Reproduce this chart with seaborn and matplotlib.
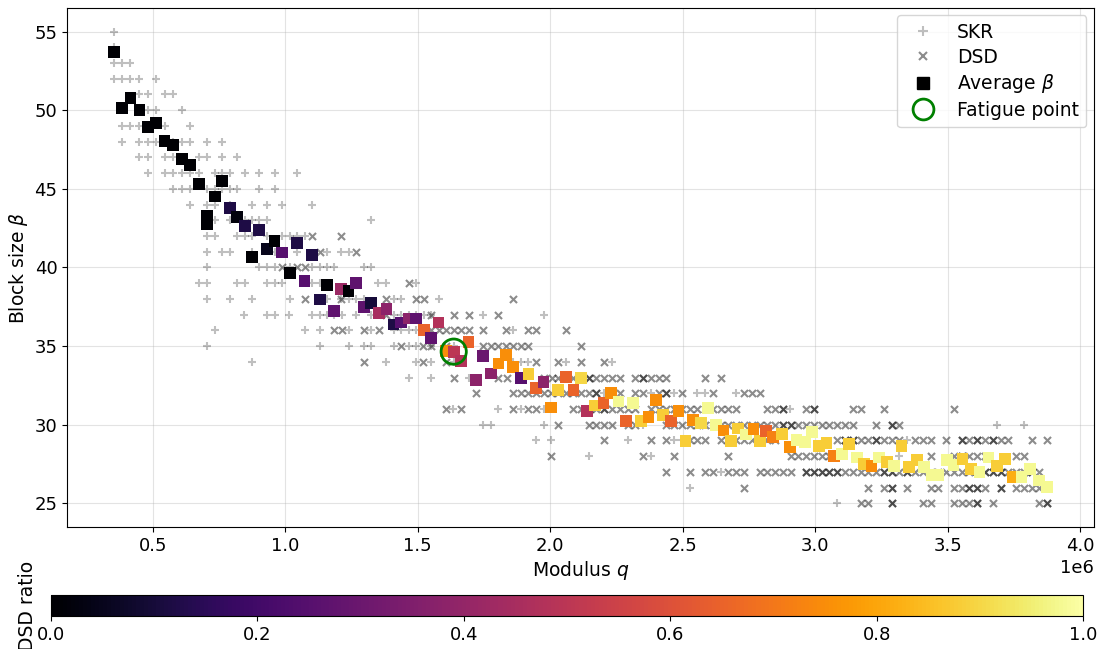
import matplotlib
matplotlib.use("Agg")
import matplotlib.pyplot as plt
import seaborn as sns
import pandas as pd
from matplotlib.lines import Line2D

# ---------------- data (q in thousands) ----------------
# SKR trials: (block size beta, list of moduli q in 1e3)
SKR_ROWS = [
    (55, [353]),
    (54, [353]),
    (53, [353, 385, 416]),
    (52, [353, 385, 416, 450, 513]),
    (51, [450, 481, 545, 577]),
    (50, [481, 513, 611]),
    (49, [385, 416, 450, 545, 642]),
    (48, [385, 450, 481, 513, 577, 611, 642, 705, 762]),
    (47, [450, 481, 545, 577, 674, 705, 762, 818]),
    (46, [481, 545, 577, 611, 642, 674, 734, 762, 791, 847, 902, 960, 1044]),
    (45, [577, 611, 642, 705, 734, 762, 791, 818, 902, 960]),
    (44, [642, 705, 734, 791, 875, 931, 988, 1101]),
    (43, [705, 734, 791, 847, 875, 902, 931, 1325]),
    (42, [705, 734, 818, 847, 875, 931, 988, 1017, 1044, 1073]),
    (41, [705, 762, 791, 875, 960, 988, 1044, 1158, 1212, 1239]),
    (40, [705, 902, 931, 960, 1017, 1101, 1130, 1158, 1185, 1296, 1325]),
    (39, [674, 705, 818, 847, 931, 960, 988, 1101, 1130, 1158, 1352, 1381, 1493]),
    (38, [705, 791, 875, 1017, 1130, 1158, 1212, 1240, 1269, 1296, 1409, 1437, 1579]),
    (37, [843, 931, 963, 1013, 1101, 1130, 1158, 1186, 1215, 1269, 1324, 1409, 1437,
          1466, 1495, 1523, 1550, 1748, 1975]),
    (36, [734, 1074, 1130, 1239, 1324, 1409, 1437, 1466, 1495, 1861]),
    (35, [705, 1130, 1240, 1296, 1324, 1409, 1466, 1495, 1550, 1636]),
    (34, [875, 1382, 1495, 1550, 1636, 1861, 1889, 1918, 2059, 2233]),
    (33, [1466, 1550, 1692]),
    (32, [2204, 2380, 2468, 2556, 2585, 2702]),
    (31, [1635, 1805, 1889, 1975, 2905]),
    (30, [1748, 1776, 1975, 2350, 3685, 3788]),
    (29, [1946, 2002, 2292, 2468, 2497, 3348]),
    (28, [2145, 2380, 3318]),
    (27, [2644]),
    (26, [2526]),
    (25, [3084]),
]

# DSD trials: (block size beta, list of moduli q in 1e3)
DSD_ROWS = [
    (42, [1101, 1212]),
    (41, [1130, 1268]),
    (40, [988, 1044, 1073]),
    (39, [1466]),
    (38, [1074, 1212, 1382, 1495, 1523, 1861]),
    (37, [1382, 1550, 1636, 1692, 1805]),
    (36, [1186, 1215, 1296, 1353, 1522, 1550, 1579, 1607, 1636, 1663, 1692, 1748,
          1832, 1918, 1946, 2059]),
    (35, [1437, 1522, 1550, 1607, 1748, 1776, 1805, 1832, 1861, 1889, 1918, 2115]),
    (34, [1296, 1522, 1607, 1946, 2031, 2115, 2204]),
    (33, [1636, 1805, 1837, 1975, 2006, 2031, 2059, 2088, 2115, 2145, 2174, 2204,
          2233, 2262, 2321, 2350, 2380, 2409, 2438, 2585, 2644]),
    (32, [1719, 1861, 1889, 1918, 1946, 1975, 2002, 2031, 2059, 2088, 2116, 2145,
          2174, 2233, 2262, 2321, 2350, 2409, 2438, 2497, 2614, 2732, 2761, 2790]),
    (31, [1607, 1663, 1861, 1918, 1946, 2088, 2116, 2145, 2174, 2204, 2233, 2262,
          2292, 2321, 2380, 2409, 2438, 2468, 2497, 2526, 2556, 2585, 2614, 2644,
          2673, 2702, 2820, 2849, 2878, 2966, 2996, 3142, 3172, 3260, 3524]),
    (30, [2031, 2145, 2174, 2204, 2233, 2292, 2321, 2438, 2468, 2497, 2526, 2556,
          2585, 2614, 2644, 2673, 2702, 2732, 2761, 2790, 2820, 2849, 2878, 2908,
          2937, 2966, 2996, 3025, 3054, 3084, 3113, 3142, 3230, 3289, 3318]),
    (29, [2204, 2380, 2438, 2526, 2556, 2585, 2644, 2673, 2702, 2732, 2761, 2790,
          2820, 2849, 3084, 3113, 3142, 3172, 3201, 3230, 3260, 3289, 3318, 3377,
          3406, 3436, 3494, 3553, 3582, 3612, 3641, 3670, 3700, 3729, 3817, 3876]),
    (28, [2002, 2350, 2468, 2673, 2908, 2937, 2966, 2996, 3025, 3054, 3436, 3524,
          3553, 3582, 3612, 3641, 3758, 3788]),
    (27, [2438, 2526, 2585, 2614, 2673, 2702, 2732, 2790, 2820, 2849, 2878, 2908,
          2966, 2996, 3025, 3054, 3084, 3113, 3142, 3172, 3201, 3230, 3260, 3289,
          3318, 3348, 3377, 3406, 3436, 3465, 3494, 3524, 3553, 3582, 3612, 3641,
          3670, 3700, 3729, 3758, 3788, 3817, 3846]),
    (26, [2732, 3201, 3260, 3289, 3348, 3436, 3465, 3524, 3553, 3582, 3612, 3641,
          3700, 3758, 3788, 3817, 3846]),
    (25, [3172, 3201, 3289, 3406, 3436, 3524, 3553, 3582, 3612, 3670, 3846, 3876]),
]

# repeated DSD trials (same q, same beta) which appear darker
DSD_REPEAT_ROWS = [
    (33, [2145, 2350]),
    (32, [2174, 2438]),
    (31, [2145, 2204, 2878, 2996]),
    (30, [2878, 2908, 3289]),
    (29, [3113, 3142, 3230, 3553, 3612, 3670]),
    (28, [3553]),
    (27, [2966, 2996, 3025, 3054, 3084, 3260, 3289, 3348, 3612, 3641, 3670, 3700, 3817]),
    (26, [3289, 3582, 3612, 3700]),
    (25, [3289, 3612, 3876]),
]

# Average beta per modulus, with DSD ratio
AVG_Q = [353, 385, 416, 450, 481, 513, 545, 577, 611, 642, 674, 705, 705, 734, 762,
         791, 818, 847, 875, 902, 931, 960, 988, 1017, 1044, 1073, 1101, 1130, 1158,
         1183, 1212, 1239, 1268, 1296, 1324, 1353, 1382, 1409, 1437, 1466, 1495, 1523,
         1550, 1579, 1607, 1636, 1663, 1692, 1719, 1748, 1776, 1805, 1832, 1861, 1889,
         1918, 1946, 1975, 2002, 2031, 2059, 2088, 2116, 2138, 2170, 2201, 2229, 2258,
         2285, 2314, 2342, 2371, 2398, 2427, 2455, 2484, 2511, 2540, 2568, 2597, 2625,
         2654, 2681, 2710, 2738, 2767, 2792, 2814, 2842, 2874, 2905, 2930, 2962, 2987,
         3016, 3043, 3071, 3100, 3129, 3157, 3185, 3213, 3242, 3270, 3299, 3326, 3355,
         3383, 3412, 3440, 3465, 3497, 3522, 3556, 3587, 3620, 3654, 3685, 3717, 3748,
         3779, 3811, 3846, 3874]
AVG_BETA = [53.68, 50.12, 50.79, 50.01, 48.92, 49.17, 48.06, 47.77, 46.91, 46.51, 45.29,
            43.30, 42.78, 44.52, 45.50, 43.78, 43.20, 42.63, 40.66, 42.40, 41.16, 41.67,
            40.95, 39.67, 41.54, 39.15, 40.79, 37.97, 38.90, 37.25, 38.65, 38.50, 39.02,
            37.48, 37.76, 37.13, 37.38, 36.37, 36.50, 36.75, 36.75, 36.02, 35.53, 36.50,
            34.70, 34.65, 34.07, 35.28, 32.84, 34.37, 33.26, 33.89, 34.45, 33.68, 32.95,
            33.22, 32.32, 32.74, 31.10, 32.21, 33.05, 32.21, 32.99, 30.85, 31.23, 31.37,
            32.00, 31.48, 30.22, 31.37, 30.22, 30.47, 31.58, 30.64, 30.22, 30.85, 28.96,
            30.32, 30.11, 31.06, 29.97, 29.63, 28.96, 29.76, 29.38, 29.74, 28.96, 29.62,
            29.22, 29.39, 28.60, 29.01, 28.91, 29.54, 28.64, 28.85, 28.00, 28.13, 28.76,
            27.92, 27.50, 27.38, 27.92, 27.65, 27.38, 28.64, 27.30, 27.76, 27.30, 26.80,
            26.80, 27.76, 27.44, 27.80, 27.17, 27.02, 27.92, 27.38, 27.80, 26.67, 26.67,
            27.17, 26.46, 26.04]
AVG_RATIO = [0.0, 0.0, 0.0, 0.0, 0.0, 0.0, 0.0, 0.0, 0.0, 0.0, 0.0, 0.0, 0.0, 0.0, 0.0,
             0.12, 0.02, 0.12, 0.0, 0.12, 0.05, 0.0, 0.25, 0.0, 0.12, 0.25, 0.12, 0.12,
             0.0, 0.27, 0.42, 0.0, 0.27, 0.27, 0.10, 0.45, 0.38, 0.12, 0.25, 0.38, 0.27,
             0.65, 0.27, 0.48, 0.75, 0.50, 0.48, 0.65, 0.38, 0.30, 0.38, 0.75, 0.75, 0.75,
             0.25, 0.88, 0.65, 0.38, 0.75, 0.88, 0.65, 0.65, 0.90, 0.48, 0.88, 0.65, 0.75,
             0.98, 0.65, 0.98, 0.88, 0.75, 0.75, 0.88, 0.65, 0.75, 0.88, 0.75, 0.90, 0.98,
             0.98, 0.75, 0.88, 0.88, 0.98, 0.75, 0.88, 0.65, 0.72, 0.88, 0.75, 0.98, 0.98,
             0.98, 0.88, 0.88, 0.72, 0.98, 0.88, 0.98, 0.88, 0.75, 0.98, 0.88, 0.98, 0.88,
             0.88, 0.88, 0.98, 0.98, 0.98, 0.98, 0.98, 0.88, 0.88, 0.98, 0.98, 0.88, 0.88,
             0.82, 0.98, 0.98, 0.98, 0.98]

FATIGUE_Q = 1636
FATIGUE_BETA = 34.65

# ---------------- build tables ----------------
def rows_to_df(rows):
    recs = [(q * 1000.0, b) for b, qs in rows for q in qs]
    return pd.DataFrame(recs, columns=["q", "beta"])

skr_df = rows_to_df(SKR_ROWS)
dsd_df = pd.concat([rows_to_df(DSD_ROWS), rows_to_df(DSD_REPEAT_ROWS)], ignore_index=True)
avg_df = pd.DataFrame({"q": [v * 1000.0 for v in AVG_Q], "beta": AVG_BETA,
                       "ratio": AVG_RATIO}).sort_values("q", kind="stable")

# ---------------- figure ----------------
plt.rcParams["font.family"] = ["DejaVu Sans"]
FS = 13.5

fig = plt.figure(figsize=(11.01, 6.49), dpi=100)
ax = fig.add_axes([0.0609, 0.188, 0.9327, 0.7997])
cax = fig.add_axes([0.0463, 0.0508, 0.9374, 0.0324])

ax.set_axisbelow(True)
ax.grid(True, color="#b0b0b0", alpha=0.35, linewidth=0.8)

sns.scatterplot(data=skr_df, x="q", y="beta", marker="+", color="black", alpha=0.25,
                s=32, linewidth=1.5, ax=ax, legend=False, zorder=2)
sns.scatterplot(data=dsd_df, x="q", y="beta", marker="x", color="black", alpha=0.45,
                s=26, linewidth=1.5, ax=ax, legend=False, zorder=2)
sns.scatterplot(data=avg_df, x="q", y="beta", hue="ratio", palette="inferno",
                hue_norm=(0, 1), marker="s", s=72, linewidth=0, edgecolor="none",
                ax=ax, legend=False, zorder=3)
ax.scatter([FATIGUE_Q * 1000.0], [FATIGUE_BETA], s=330, facecolors="none",
           edgecolors="green", linewidths=2, zorder=4)

ax.set_xlabel("Modulus $q$", fontsize=FS, labelpad=3)
ax.set_ylabel("Block size $\\beta$", fontsize=FS, labelpad=3)
ax.tick_params(labelsize=13)
ax.xaxis.get_offset_text().set_fontsize(13)

handles = [
    Line2D([], [], ls="", marker="+", color="black", alpha=0.25, markersize=7, mew=1.5),
    Line2D([], [], ls="", marker="x", color="black", alpha=0.45, markersize=6, mew=1.5),
    Line2D([], [], ls="", marker="s", color="black", markersize=8.5),
    Line2D([], [], ls="", marker="o", markerfacecolor="none", markeredgecolor="green",
           markersize=15, mew=2),
]
ax.legend(handles, ["SKR", "DSD", "Average $\\beta$", "Fatigue point"],
          loc="upper right", fontsize=FS, labelspacing=0.3, borderaxespad=0.4)

sm = plt.cm.ScalarMappable(cmap="inferno", norm=plt.Normalize(0, 1))
sm.set_array([])
cb = fig.colorbar(sm, cax=cax, orientation="horizontal")
cb.ax.set_ylabel("DSD ratio", fontsize=FS, labelpad=10)
cb.ax.tick_params(labelsize=13)

fig.savefig("out.png", dpi=100)
